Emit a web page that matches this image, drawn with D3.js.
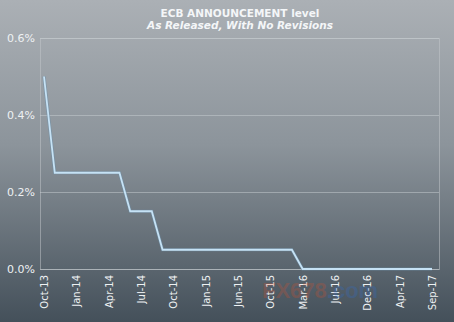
<!DOCTYPE html>
<html>
<head>
<meta charset="utf-8">
<title>ECB announcement level</title>
<script src="https://cdnjs.cloudflare.com/ajax/libs/d3/7.8.5/d3.min.js"></script>
<style>
  body { margin: 0; background: #5c6670; }
  svg { display: block; font-family: "DejaVu Sans", Verdana, sans-serif; }
</style>
</head>
<body>
<svg width="454" height="322"></svg>
<script>
// ECB meeting dates (one point per announcement) and the main refi rate, %
var meetings = ["Oct-13","Nov-13","Dec-13","Jan-14","Feb-14","Mar-14","Apr-14","May-14","Jun-14",
  "Jul-14","Aug-14","Sep-14","Oct-14","Nov-14","Dec-14","Jan-15","Mar-15","Apr-15","Jun-15",
  "Jul-15","Sep-15","Oct-15","Dec-15","Jan-16","Mar-16","Apr-16","Jun-16","Jul-16","Sep-16",
  "Oct-16","Dec-16","Jan-17","Mar-17","Apr-17","Jun-17","Jul-17","Sep-17"];
var rate = [0.50,0.25,0.25,0.25,0.25,0.25,0.25,0.25,0.15,
  0.15,0.15,0.05,0.05,0.05,0.05,0.05,0.05,0.05,0.05,
  0.05,0.05,0.05,0.05,0.05,0.00,0.00,0.00,0.00,0.00,
  0.00,0.00,0.00,0.00,0.00,0.00,0.00,0.00];
var yTicks = [0, 0.2, 0.4, 0.6];

var svg = d3.select("svg");
var W = 454, H = 322;
var plotL = 40, plotR = 439, plotT = 38, plotB = 269;

var defs = svg.append("defs");
var grad = defs.append("linearGradient").attr("id", "bg")
  .attr("x1", 0).attr("y1", 0).attr("x2", 0).attr("y2", 1);
grad.append("stop").attr("offset", "0%").attr("stop-color", "#abb0b5");
grad.append("stop").attr("offset", "45%").attr("stop-color", "#8c949b");
grad.append("stop").attr("offset", "100%").attr("stop-color", "#44505a");

svg.append("rect").attr("width", W).attr("height", H).attr("fill", "url(#bg)");

var x = d3.scalePoint().domain(d3.range(meetings.length)).range([44, 432]);
var y = d3.scaleLinear().domain([0, 0.6]).range([plotB, plotT]);

// plot frame and grid
svg.append("rect").attr("x", plotL + 0.5).attr("y", plotT + 0.5)
  .attr("width", plotR - plotL).attr("height", plotB - plotT)
  .attr("fill", "none").attr("stroke", "#c3c8cc").attr("stroke-opacity", 0.5);

svg.append("g").selectAll("line").data(yTicks).enter().append("line")
  .attr("x1", plotL).attr("x2", plotR)
  .attr("y1", function(d) { return Math.round(y(d)) + 0.5; })
  .attr("y2", function(d) { return Math.round(y(d)) + 0.5; })
  .attr("stroke", "#c8cdd1").attr("stroke-opacity", 0.5);

// y axis labels
var yAxis = d3.axisLeft(y).tickValues(yTicks).tickSize(0).tickPadding(5)
  .tickFormat(function(d) { return d3.format(".1f")(d) + "%"; });
var gy = svg.append("g").attr("transform", "translate(" + plotL + ",0)").call(yAxis);
gy.select(".domain").remove();
gy.selectAll("text").attr("fill", "#eef1f3").attr("font-size", 11)
  .attr("font-family", "DejaVu Sans, Verdana, sans-serif");

// x axis labels, every third meeting
var xAxis = d3.axisBottom(x)
  .tickValues(d3.range(0, meetings.length, 3))
  .tickSize(0)
  .tickFormat(function(i) { return meetings[i]; });
var gx = svg.append("g").attr("transform", "translate(0," + plotB + ")").call(xAxis);
gx.select(".domain").remove();
gx.selectAll("text")
  .attr("fill", "#eef1f3").attr("font-size", 10)
  .attr("font-family", "DejaVu Sans, Verdana, sans-serif")
  .attr("transform", "rotate(-90)")
  .attr("text-anchor", "end")
  .attr("x", -6).attr("y", 0).attr("dy", "0.35em");

// watermark
var wm = svg.append("text").attr("x", 262).attr("y", 298)
  .attr("font-size", 22).attr("font-weight", "bold").attr("opacity", 0.25)
  .attr("font-family", "Liberation Sans, Arial, sans-serif");
wm.append("tspan").attr("fill", "#d9502a").text("FX678");
wm.append("tspan").attr("fill", "#2f6fd0").text(".com");

// the line
var line = d3.line().x(function(d, i) { return x(i); }).y(function(d) { return y(d); });
svg.append("path").datum(rate).attr("d", line)
  .attr("fill", "none").attr("stroke", "#6d8fa8").attr("stroke-width", 3.2).attr("stroke-opacity", 0.6);
svg.append("path").datum(rate).attr("d", line)
  .attr("fill", "none").attr("stroke", "#c6e2f5").attr("stroke-width", 1.8);

// titles
svg.append("text").attr("x", 240).attr("y", 17).attr("text-anchor", "middle")
  .attr("fill", "#f4f6f8").attr("font-size", 10.5).attr("font-weight", "bold")
  .text("ECB ANNOUNCEMENT level");
svg.append("text").attr("x", 240).attr("y", 29).attr("text-anchor", "middle")
  .attr("fill", "#f4f6f8").attr("font-size", 10.5).attr("font-weight", "bold")
  .attr("font-style", "italic")
  .text("As Released, With No Revisions");
</script>
</body>
</html>
